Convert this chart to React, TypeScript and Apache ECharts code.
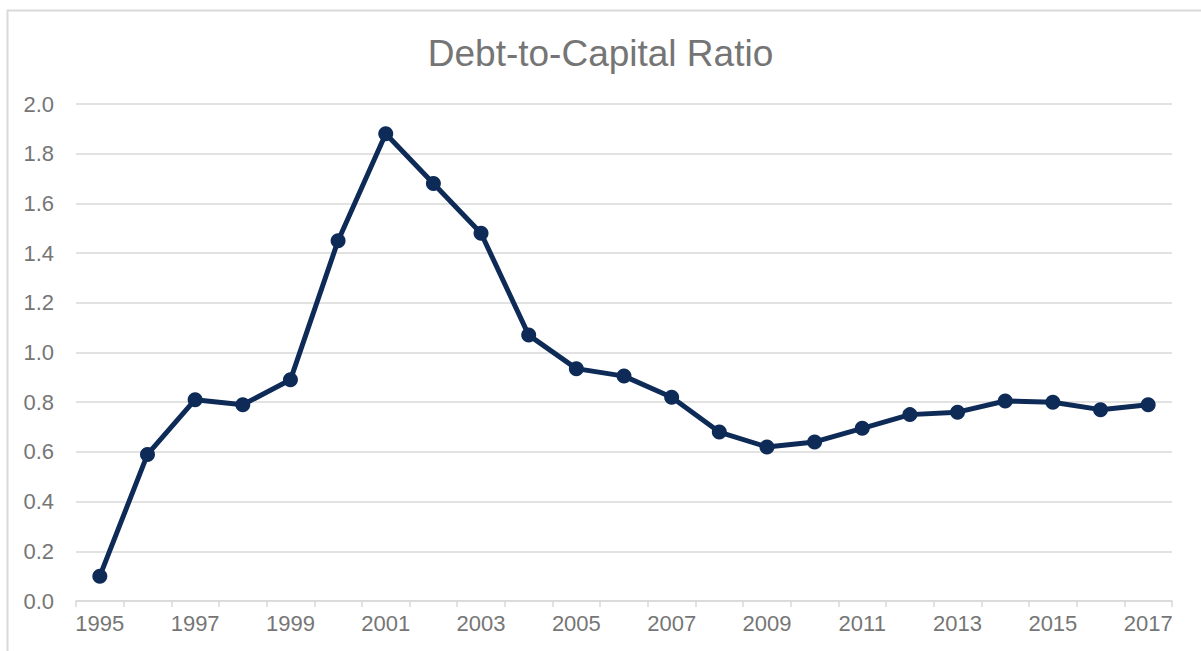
import React, { useEffect, useRef } from "react";
import * as echarts from "echarts";

const years = [
  "1995", "1996", "1997", "1998", "1999", "2000", "2001", "2002", "2003", "2004", "2005", "2006",
  "2007", "2008", "2009", "2010", "2011", "2012", "2013", "2014", "2015", "2016", "2017",
];
const debtToCapital = [
  0.1, 0.59, 0.81, 0.79, 0.89, 1.45, 1.88, 1.68, 1.48, 1.07, 0.935, 0.905,
  0.82, 0.68, 0.62, 0.64, 0.695, 0.75, 0.76, 0.805, 0.8, 0.77, 0.79,
];
const titleText = "Debt-to-Capital Ratio";

export default function App() {
  const ref = useRef<HTMLDivElement>(null);
  useEffect(() => {
    if (!ref.current) return;
    const chart = echarts.init(ref.current, undefined, { renderer: "svg" });
    chart.setOption({
      animation: false,
      backgroundColor: "#ffffff",
      title: {
        text: titleText,
        left: "center",
        top: 30,
        textStyle: {
          fontFamily: "Liberation Sans, Arial, sans-serif",
          fontSize: 37,
          fontWeight: "normal",
          color: "#757575",
        },
      },
      graphic: [
        {
          type: "rect",
          left: 5,
          top: 8,
          shape: { width: 1300, height: 700 },
          style: { fill: "none", stroke: "#d9d9d9", lineWidth: 2 },
          silent: true,
        },
      ],
      grid: { left: 76, right: 29, top: 104, bottom: 50, containLabel: false },
      xAxis: {
        type: "category",
        data: years,
        boundaryGap: true,
        axisLine: { lineStyle: { color: "#d9d9d9", width: 1.5 } },
        axisTick: { show: true, interval: 0, length: 6, lineStyle: { color: "#d9d9d9", width: 1.5 } },
        axisLabel: {
          interval: 1,
          margin: 11,
          fontFamily: "Liberation Sans, Arial, sans-serif",
          fontSize: 22,
          color: "#767676",
        },
      },
      yAxis: {
        type: "value",
        min: 0,
        max: 2,
        interval: 0.2,
        axisLine: { show: false },
        axisTick: { show: false },
        splitLine: { lineStyle: { color: "#d9d9d9", width: 1.5 } },
        axisLabel: {
          margin: 22,
          formatter: (v: number) => v.toFixed(1),
          fontFamily: "Liberation Sans, Arial, sans-serif",
          fontSize: 22,
          color: "#767676",
        },
      },
      series: [
        {
          type: "line",
          data: debtToCapital,
          symbol: "circle",
          symbolSize: 15,
          lineStyle: { color: "#0e2a57", width: 5 },
          itemStyle: { color: "#0e2a57" },
        },
      ],
    });
    return () => chart.dispose();
  }, []);
  return (
    <div
      ref={ref}
      style={{ position: "fixed", left: 0, top: 0, width: 1201, height: 651 }}
    />
  );
}
